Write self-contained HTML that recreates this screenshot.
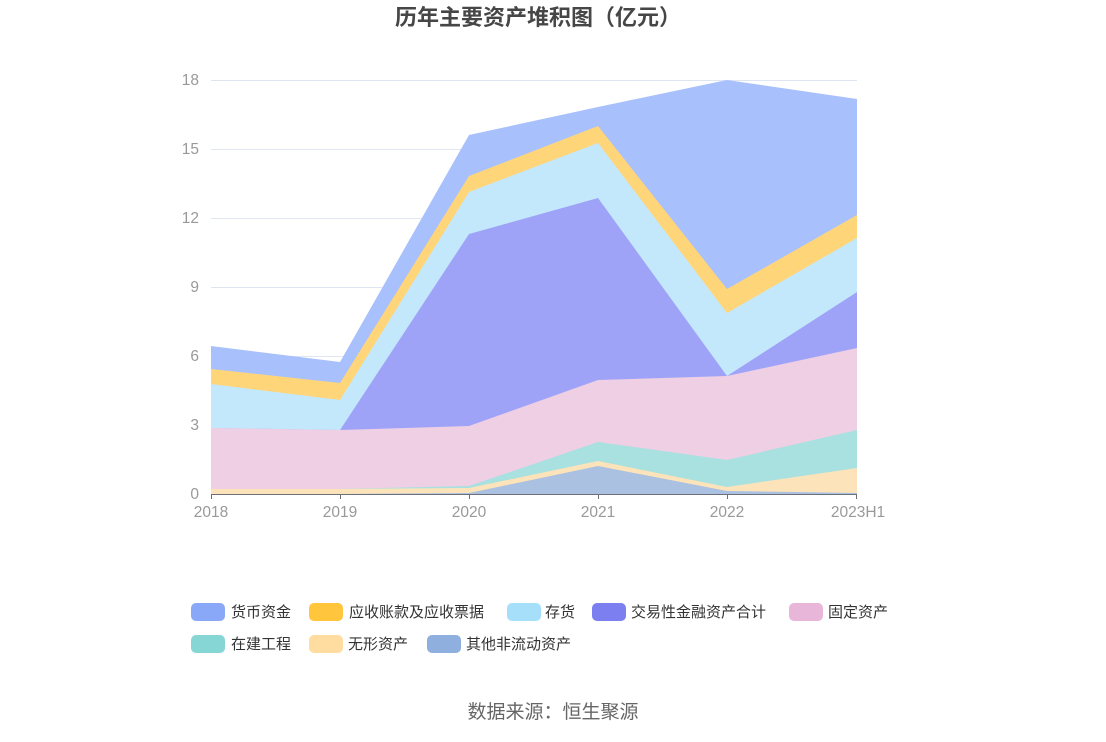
<!DOCTYPE html>
<html><head><meta charset="utf-8"><style>
body{margin:0;background:#fff;width:1106px;height:737px;overflow:hidden;font-family:"Liberation Sans","Noto Sans CJK SC",sans-serif}
</style></head><body>
<svg width="1106" height="737" xmlns="http://www.w3.org/2000/svg" font-family="Liberation Sans, Noto Sans CJK SC, sans-serif">
<text x="538" y="25" text-anchor="middle" font-size="22" font-weight="bold" fill="#464646">历年主要资产堆积图（亿元）</text>
<g stroke="#e0e6f1" stroke-width="1">
<line x1="211" x2="857" y1="80.5" y2="80.5"/><line x1="211" x2="857" y1="149.5" y2="149.5"/>
<line x1="211" x2="857" y1="218.5" y2="218.5"/><line x1="211" x2="857" y1="287.5" y2="287.5"/>
<line x1="211" x2="857" y1="356.5" y2="356.5"/><line x1="211" x2="857" y1="425.5" y2="425.5"/>
</g>
<g font-size="15.5" fill="#999" text-anchor="end">
<text x="199" y="85">18</text><text x="199" y="154">15</text><text x="199" y="223">12</text>
<text x="199" y="292">9</text><text x="199" y="361">6</text><text x="199" y="430">3</text><text x="199" y="499">0</text>
</g>
<polygon fill="#a8c0fc" points="211,346 340,362 469,135 598,107 727,80 857,99 857,494 211,494"/>
<polygon fill="#ffd57a" points="211,369 340,383 469,176 598,126 727,289 857,215 857,494 211,494"/>
<polygon fill="#c4e8fb" points="211,384 340,400 469,192 598,143 727,313 857,238 857,494 211,494"/>
<polygon fill="#9fa3f8" points="211,428 340,430 469,234 598,198 727,376 857,292 857,494 211,494"/>
<polygon fill="#eecfe4" points="211,428 340,430 469,426 598,380 727,376 857,348 857,494 211,494"/>
<polygon fill="#a9e0e0" points="211,489 340,489 469,486 598,442 727,460 857,430 857,494 211,494"/>
<polygon fill="#fde3b9" points="211,489 340,489 469,488 598,461 727,487 857,468 857,494 211,494"/>
<polygon fill="#abc1e2" points="211,494 340,494 469,493 598,466 727,491 857,493 857,494 211,494"/>
<line x1="211" x2="857" y1="494.5" y2="494.5" stroke="#6e7079"/>
<g stroke="#6e7079"><line x1="211.5" x2="211.5" y1="494" y2="499"/><line x1="340.5" x2="340.5" y1="494" y2="499"/><line x1="469.5" x2="469.5" y1="494" y2="499"/><line x1="598.5" x2="598.5" y1="494" y2="499"/><line x1="727.5" x2="727.5" y1="494" y2="499"/><line x1="856.5" x2="856.5" y1="494" y2="499"/></g>
<g font-size="15.5" fill="#999" text-anchor="middle">
<text x="211" y="517">2018</text><text x="340" y="517">2019</text><text x="469" y="517">2020</text><text x="598" y="517">2021</text><text x="727" y="517">2022</text><text x="858" y="517">2023H1</text>
</g>
<g font-size="15" fill="#333">
<rect x="191" y="603" width="34" height="18" rx="5" fill="#8aa8f8"/><text x="231" y="617">货币资金</text>
<rect x="309" y="603" width="34" height="18" rx="5" fill="#ffc53d"/><text x="349" y="617">应收账款及应收票据</text>
<rect x="507" y="603" width="34" height="18" rx="5" fill="#a5dff9"/><text x="545" y="617">存货</text>
<rect x="592" y="603" width="34" height="18" rx="5" fill="#7b7ff0"/><text x="631" y="617">交易性金融资产合计</text>
<rect x="789" y="603" width="34" height="18" rx="5" fill="#e8b6d9"/><text x="828" y="617">固定资产</text>
<rect x="191" y="635" width="34" height="18" rx="5" fill="#86d6d6"/><text x="231" y="649">在建工程</text>
<rect x="309" y="635" width="34" height="18" rx="5" fill="#ffdca0"/><text x="348" y="649">无形资产</text>
<rect x="427" y="635" width="34" height="18" rx="5" fill="#8fb0de"/><text x="466" y="649">其他非流动资产</text>
</g>
<text x="553" y="718" text-anchor="middle" font-size="19" fill="#666">数据来源：恒生聚源</text>
</svg>
</body></html>
